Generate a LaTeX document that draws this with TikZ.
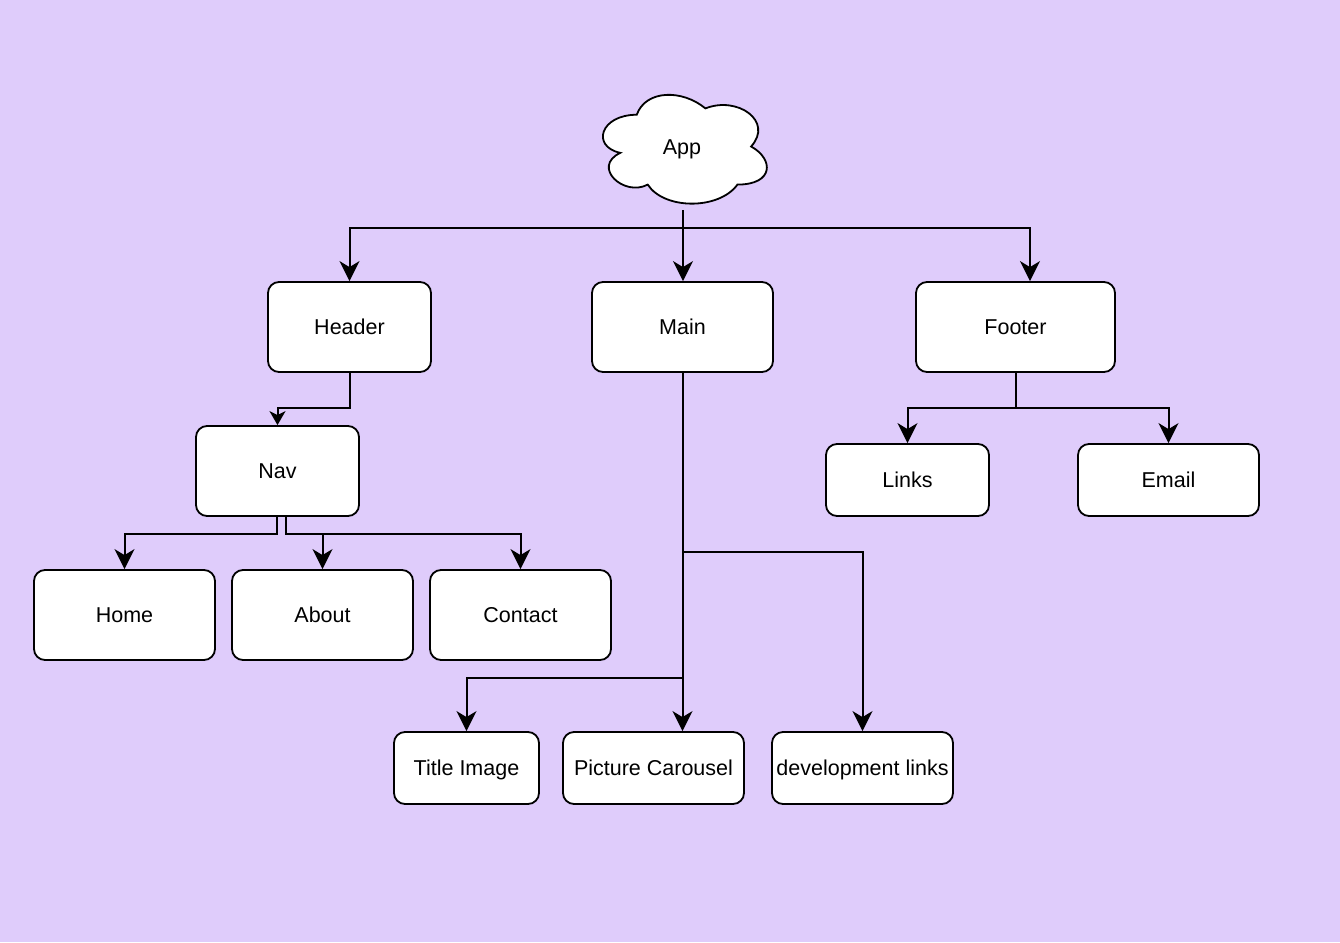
\documentclass[tikz,border=0pt]{standalone}
\usepackage{fontspec}
\setmainfont{Liberation Sans}
\usetikzlibrary{arrows.meta}
\definecolor{bgviolet}{HTML}{DFCCFB}
\tikzset{
  label/.style={inner sep=0pt, font=\fontsize{21.5}{26}\selectfont,
    text height=15.5pt, text depth=0pt},
  box/.style={label, draw=black, fill=white, line width=1.8pt, rounded corners=11pt,
    align=center},
  arr/.style={draw=black, line width=2pt,
    -{Stealth[length=20pt,width=20pt,inset=6pt]}},
  smallarr/.style={draw=black, line width=2pt,
    -{Stealth[length=14pt,width=16pt,inset=4pt]}},
  wire/.style={draw=black, line width=2pt}
}
\begin{document}
\begin{tikzpicture}[x=1pt, y=-1pt]
\fill[bgviolet] (0,0) rectangle (1340,942);
\useasboundingbox (0,0) rectangle (1340,942);

% cloud for the root component
\begin{scope}[shift={(591,83)}, x=183pt, y=-127pt]
\draw[fill=white, line width=1.8pt]
  (0.25,0.25) .. controls (0.05,0.25) and (0,0.5) .. (0.16,0.55)
  .. controls (0,0.66) and (0.18,0.9) .. (0.31,0.8)
  .. controls (0.4,1) and (0.7,1) .. (0.8,0.8)
  .. controls (1,0.8) and (1,0.6) .. (0.875,0.5)
  .. controls (1,0.3) and (0.8,0.1) .. (0.625,0.2)
  .. controls (0.5,0.05) and (0.3,0.05) .. (0.25,0.25) -- cycle;
\end{scope}
\node[label] (app) at (682,147) {App};
\coordinate (appb) at (683,210);

% components
\node[box, minimum width=163pt, minimum height=90pt] (header) at (349.5,327) {Header};
\node[box, minimum width=181pt, minimum height=90pt] (main) at (682.5,327) {Main};
\node[box, minimum width=199pt, minimum height=90pt] (footer) at (1015.5,327) {Footer};
\node[box, minimum width=163pt, minimum height=90pt] (nav) at (277.5,471) {Nav};
\node[box, minimum width=181pt, minimum height=90pt] (home) at (124.5,615) {Home};
\node[box, minimum width=181pt, minimum height=90pt] (about) at (322.5,615) {About};
\node[box, minimum width=181pt, minimum height=90pt] (contact) at (520.5,615) {Contact};
\node[box, minimum width=163pt, minimum height=72pt] (links) at (907.5,480) {Links};
\node[box, minimum width=181pt, minimum height=72pt] (email) at (1168.5,480) {Email};
\node[box, minimum width=145pt, minimum height=72pt] (title) at (466.5,768) {Title Image};
\node[box, minimum width=181pt, minimum height=72pt] (carousel) at (653.5,768) {Picture Carousel};
\node[box, minimum width=181pt, minimum height=72pt] (devlinks) at (862.5,768) {development links};

% App to its children
\coordinate (appbus) at (683,228);
\draw[wire] (appb) -- (appbus);
\draw[arr] (appbus) -| (header.north);
\draw[arr] (appbus) -- (main.north -| appbus);
\draw[arr] (appbus) -| ([xshift=14.5pt]footer.north);

% Header to Nav
\draw[smallarr] (header.south) -- (header.south |- 0,408) -| (nav.north);

% Nav to its links
\coordinate (navl) at ([xshift=-0.5pt]nav.south);
\coordinate (navr) at ([xshift=8.5pt]nav.south);
\draw[arr] (navl) -- (navl |- 0,534) -| (home.north);
\draw[arr] (navr) -- (navr |- 0,534) -| (about.north);
\draw[arr] (navr |- 0,534) -| (contact.north);

% Main to its sections
\draw[arr] (main.south) -- (main.south |- carousel.north);
\draw[arr] (main.south |- 0,552) -| (devlinks.north);
\draw[arr] (main.south |- 0,678) -| (title.north);

% Footer to its items
\coordinate (footb) at (footer.south);
\draw[wire] (footb) -- (footb |- 0,408);
\draw[arr] (footb |- 0,408) -| (links.north);
\draw[arr] (footb |- 0,408) -| (email.north);
\end{tikzpicture}
\end{document}
